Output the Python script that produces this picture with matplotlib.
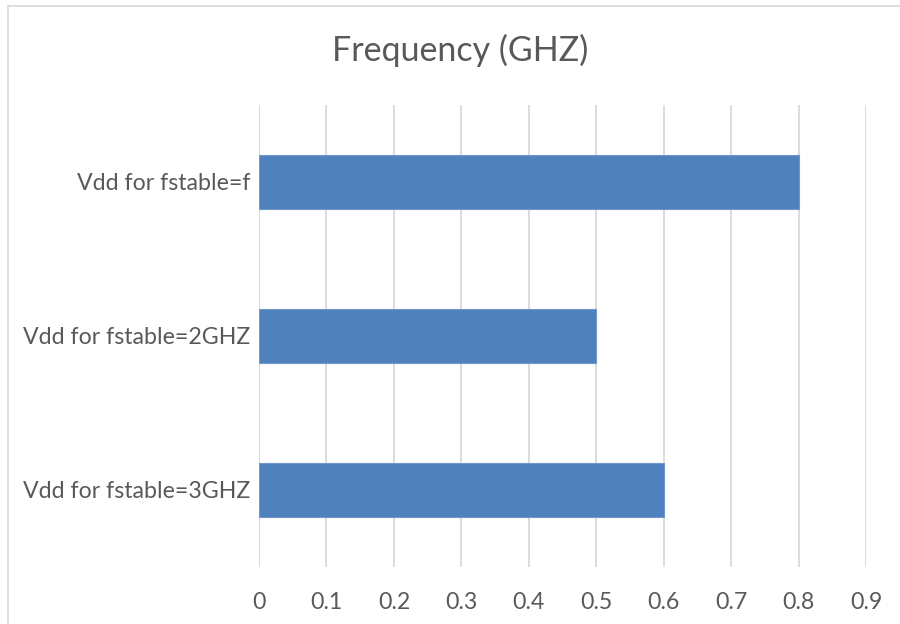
import matplotlib.pyplot as plt
from matplotlib.patches import Rectangle

categories = ['Vdd for fstable=f', 'Vdd for fstable=2GHZ', 'Vdd for fstable=3GHZ']
values = [0.8, 0.5, 0.6]
xticks = [0, 0.1, 0.2, 0.3, 0.4, 0.5, 0.6, 0.7, 0.8, 0.9]
title = 'Frequency (GHZ)'

plt.rcParams['font.family'] = ['Lato', 'DejaVu Sans']
text_color = '#595959'
grid_color = '#D9D9D9'

fig = plt.figure(figsize=(9, 6.24), dpi=100)
ax = fig.add_axes([259 / 900, 1 - 567 / 624, (866 - 259) / 900, (567 - 105) / 624])

# top category first, like Excel
ypos = list(range(len(categories)))[::-1]
ax.barh(ypos, values, height=0.357, color='#4F81BD', edgecolor='#6F97CB', linewidth=0.8, zorder=3)

ax.set_xlim(0, 0.9)
ax.set_ylim(-0.5, len(categories) - 0.5)
ax.set_xticks(xticks)
ax.set_xticklabels([f'{t:g}' for t in xticks])
ax.set_yticks(ypos)
ax.set_yticklabels(categories)

ax.grid(axis='x', color=grid_color, linewidth=1.3, zorder=0)
ax.tick_params(axis='both', length=0, labelsize=16.7, colors=text_color)
ax.tick_params(axis='x', pad=18)
ax.tick_params(axis='y', pad=6)
for s in ax.spines.values():
    s.set_visible(False)
ax.axvline(0, color=grid_color, linewidth=1.3, zorder=1)

fig.text(460 / 900, 1 - 50 / 624, title, ha='center', va='center', fontsize=24.5, color=text_color)

# chart area border (cropped at right and bottom)
fig.patches.append(Rectangle((8 / 900, -0.1), 1.2, 1 - 6 / 624 + 0.1, transform=fig.transFigure,
                             fill=False, edgecolor=grid_color, linewidth=1.2))

fig.savefig('out.png', dpi=100)
